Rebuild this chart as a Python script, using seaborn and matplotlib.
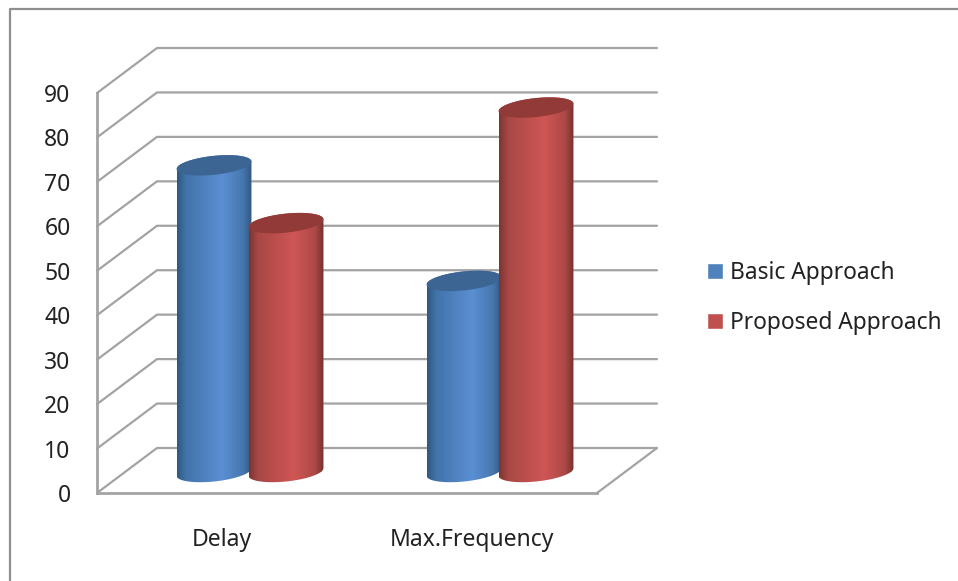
import numpy as np
import pandas as pd
import seaborn as sns
import matplotlib.pyplot as plt
from matplotlib.colors import LinearSegmentedColormap
from matplotlib.lines import Line2D
from matplotlib.patches import Polygon

categories = ["Delay", "Max.Frequency"]
approaches = ["Basic Approach", "Proposed Approach"]
basic_values = [69, 43]
proposed_values = [56, 82]
y_ticks = [0, 10, 20, 30, 40, 50, 60, 70, 80, 90]

W, H = 958, 581
GRID = "#a3a3a3"
TEXT = "#222222"
BLUES = ["#2f5882", "#4273a9", "#5a8fd3", "#4677ae", "#32577f"]
REDS = ["#7c3532", "#a84845", "#cf5655", "#ad4947", "#76302e"]
STOPS = [0, 0.12, 0.6, 0.88, 1]

df = pd.DataFrame({
    "category": categories * 2,
    "approach": [approaches[0]] * 2 + [approaches[1]] * 2,
    "value": basic_values + proposed_values,
})

sns.set_theme(style="white", font="Noto Sans")
fig = plt.figure(figsize=(W / 100, H / 100), dpi=100)
ax = fig.add_axes([97 / W, (H - 493) / H, 500 / W, 400 / H])
sns.barplot(data=df, x="category", y="value", hue="approach", ax=ax, width=0.576, gap=0,
            saturation=1, palette=["#4f81bd", "#c0504d"], order=categories, hue_order=approaches)
ax.set_xlim(-0.5, 1.5)
ax.set_ylim(0, 90)

# pixel sizes in data units, the chart is a fake 3d box
px_x = 2 / 500
px_y = 90 / 400
depth_x = 60 * px_x
depth_y = 45 * px_y

# back wall, side wall, floor
for t in y_ticks:
    ax.plot([-0.5, -0.5 + depth_x, 1.5 + depth_x], [t, t + depth_y, t + depth_y],
            color=GRID, lw=1.6, clip_on=False, zorder=1, solid_joinstyle="miter")
ax.plot([1.5, 1.5 + depth_x], [0, depth_y], color=GRID, lw=1.6, clip_on=False, zorder=1)

floor = 21 * px_y
shift = 28 * px_x


def ellipse(cx, cy, rx, theta):
    xs = cx + rx * np.cos(theta)
    ys = cy + (9.5 * np.sin(theta) + 0.1 * (rx / px_x) * np.cos(theta)) * px_y
    return np.column_stack([xs, ys])


for i, p in enumerate(ax.patches):
    colors = BLUES if i < 2 else REDS
    cap = "#3d6593" if i < 2 else "#913a37"
    z = 3 + i
    p.set_x(p.get_x() + shift)
    p.set_y(floor)
    cx = p.get_x() + p.get_width() / 2
    rx = p.get_width() / 2 * 1.04
    top = floor + p.get_height()
    low = ellipse(cx, floor, rx, np.linspace(np.pi, 2 * np.pi, 60))
    up = ellipse(cx, top, rx, np.linspace(0, np.pi, 60))
    body = Polygon(np.vstack([low, up]), closed=True, transform=ax.transData, fc="none", ec="none")
    ax.add_patch(body)
    p.set_zorder(z)
    p.set_clip_path(body)
    cmap = LinearSegmentedColormap.from_list("cyl", list(zip(STOPS, colors)))
    im = ax.imshow(np.linspace(0, 1, 256).reshape(1, -1), cmap=cmap, aspect="auto", zorder=z,
                   extent=[cx - rx, cx + rx, floor - 3, top + 3])
    im.set_clip_path(body)
    ax.add_patch(Polygon(ellipse(cx, top, rx, np.linspace(0, 2 * np.pi, 120)), closed=True,
                         fc=cap, ec="none", zorder=z))

ax.set_xlim(-0.5, 1.5)
ax.set_ylim(0, 90)
ax.set_xlabel("")
ax.set_ylabel("")
ax.set_yticks(y_ticks)
ax.tick_params(axis="y", length=0, pad=19, labelsize=16.5, labelcolor=TEXT)
ax.tick_params(axis="x", length=0, pad=25, labelsize=16.5, labelcolor=TEXT)
sns.despine(ax=ax)
for side in ["left", "bottom"]:
    ax.spines[side].set_color(GRID)
    ax.spines[side].set_linewidth(2)

handles, labels = ax.get_legend_handles_labels()
ax.legend(handles, labels, loc="center left", bbox_to_anchor=(707 / W, (H - 298) / H),
          bbox_transform=fig.transFigure, frameon=False, fontsize=16.4, handlelength=0.7,
          handleheight=0.7, handletextpad=0.3, labelspacing=1.18, labelcolor=TEXT,
          borderpad=0, borderaxespad=0)

# outer frame, only top and left are inside the picture
fig.add_artist(Line2D([9.5 / W, 9.5 / W, 1], [0, (H - 9) / H, (H - 9) / H], color="#8f8f8f", lw=1.6))

fig.savefig("out.png", dpi=100)
